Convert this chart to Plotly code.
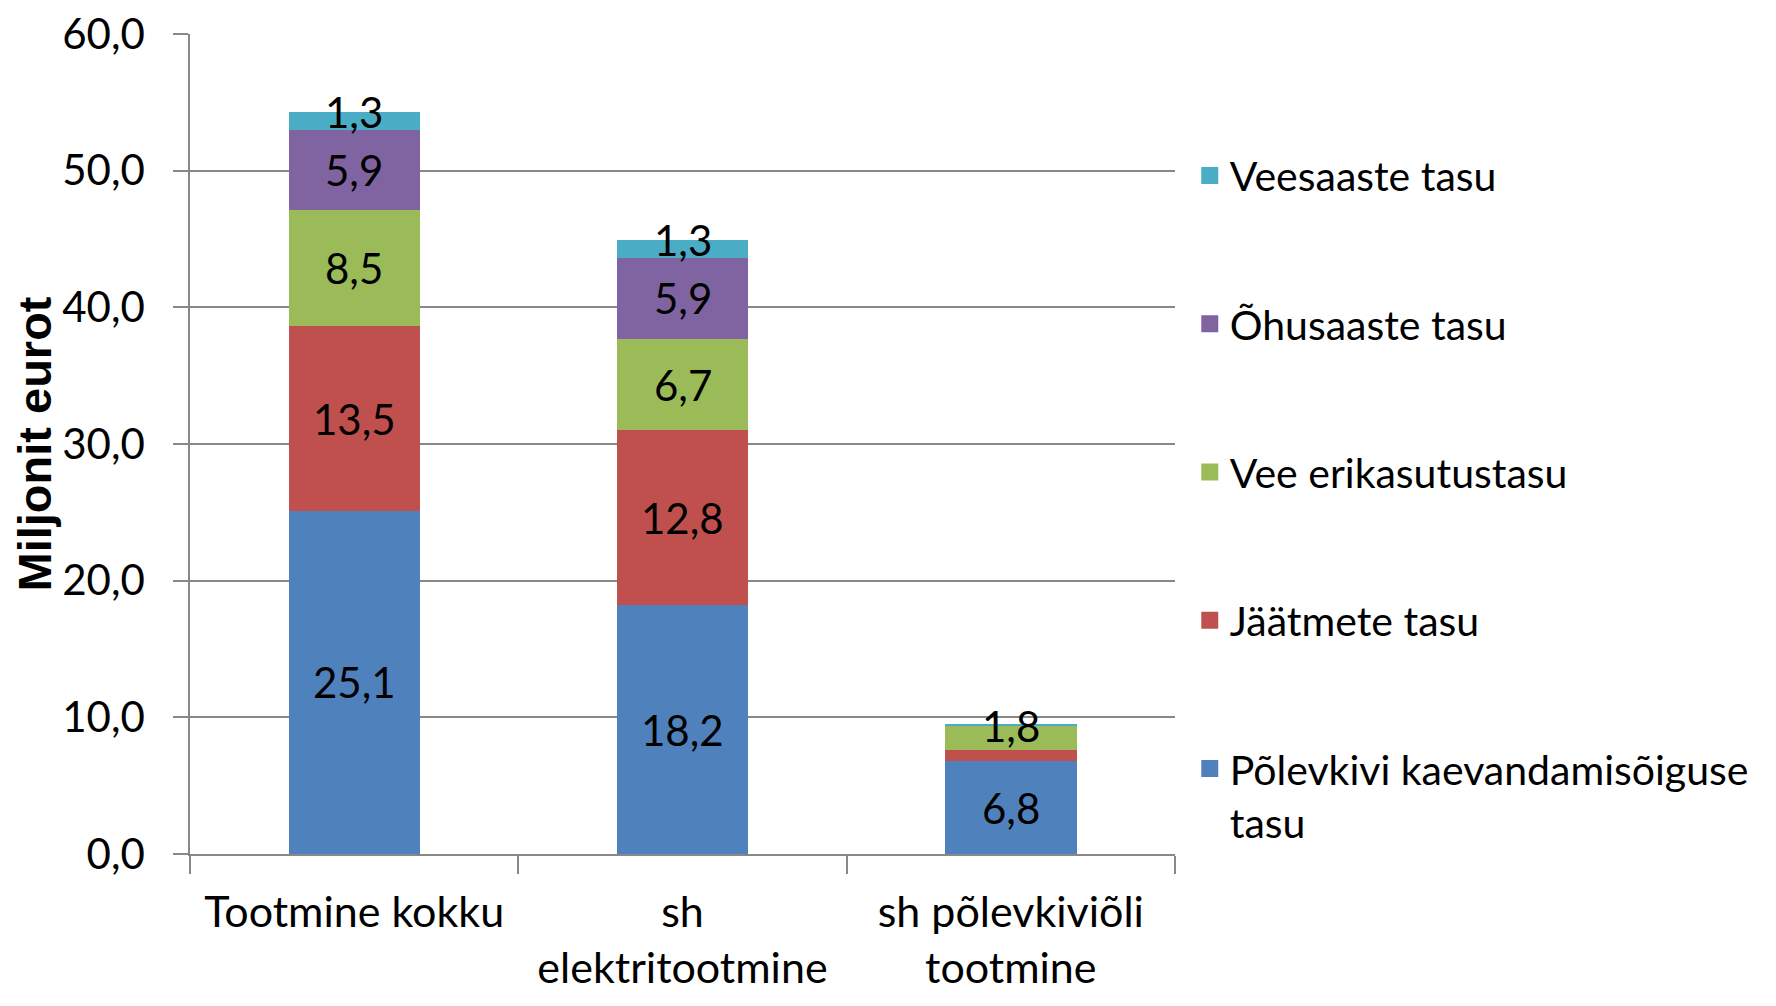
import plotly.graph_objects as go

categories = ["Tootmine kokku", "sh<br>elektritootmine", "sh põlevkiviõli<br>tootmine"]
series_names = ["Põlevkivi kaevandamisõiguse<br>tasu", "Jäätmete tasu", "Vee erikasutustasu",
                "Õhusaaste tasu", "Veesaaste tasu"]
polevkivi = [25.1, 18.2, 6.8]
jaatmete = [13.5, 12.8, 0.8]
vee_eri = [8.5, 6.7, 1.8]
ohusaaste = [5.9, 5.9, 0.0]
veesaaste = [1.3, 1.3, 0.05]
colors = ["#4F81BD", "#C0504D", "#9BBB59", "#8064A2", "#4BACC6"]
y_ticks = [0, 10, 20, 30, 40, 50, 60]

series = [polevkivi, jaatmete, vee_eri, ohusaaste, veesaaste]

FONT = "Lato"
FS = 42

fig = go.Figure()
for i, (name, vals, col) in enumerate(zip(series_names, series, colors)):
    fig.add_trace(go.Bar(
        x=categories, y=vals, name=name, marker=dict(color=col, line=dict(width=0)),
        showlegend=False,
    ))
# legend entries (bar-type swatches, enlarged via outline of same colour), top series first
for i in reversed(range(len(series_names))):
    fig.add_trace(go.Bar(
        x=[categories[0]], y=[None], name=series_names[i],
        marker=dict(color=colors[i], line=dict(width=13, color=colors[i])),
        legendgroup=f"g{i}", showlegend=True, hoverinfo="skip",
    ))

# data labels
annotations = []
cum = [0.0] * len(categories)
for vals in series:
    for j, v in enumerate(vals):
        bottom = cum[j]
        top = bottom + v
        if v >= 2:
            ypos = (bottom + top) / 2
        elif v >= 1:
            ypos = top
        else:
            ypos = None
        if ypos is not None:
            annotations.append(dict(
                x=categories[j], y=ypos, xref="x", yref="y",
                text=f"{v:.1f}".replace(".", ","), showarrow=False,
                font=dict(family=FONT, size=FS, color="black"),
                yanchor="middle", xanchor="center",
            ))
        cum[j] = top

fig.update_layout(
    barmode="stack",
    bargap=0.6,
    width=1760, height=990,
    margin=dict(l=182, r=593, t=26, b=144),
    paper_bgcolor="white", plot_bgcolor="white",
    separators=", ",
    font=dict(family=FONT, size=FS, color="black"),
    showlegend=True,
    legend=dict(
        traceorder="grouped", x=1.015, xanchor="left", y=0.868, yanchor="top",
        font=dict(family=FONT, size=41, color="black"), tracegroupgap=92,
        valign="top", itemwidth=30,
    ),
    annotations=annotations,
)
fig.update_xaxes(
    automargin=False, ticklabeloverflow="allow",
    showgrid=False, showline=True, linecolor="#888888", linewidth=1.5,
    ticks="outside", tickson="boundaries", ticklen=18, tickcolor="#888888", tickwidth=1.5,
    tickfont=dict(family=FONT, size=43, color="black"),
    ticklabelstandoff=20,
)
fig.update_yaxes(
    automargin=False, ticklabeloverflow="allow",
    range=[0, 60], tickvals=y_ticks, tickformat=".1f",
    showgrid=True, gridcolor="#888888", gridwidth=1.5,
    showline=True, linecolor="#888888", linewidth=1.5,
    ticks="outside", ticklen=15, tickcolor="#888888", tickwidth=1.5,
    tickfont=dict(family=FONT, size=FS, color="black"),
    ticklabelstandoff=20,
    title=dict(text="Miljonit eurot", font=dict(family="Liberation Sans", size=47, color="black", weight="bold"), standoff=8),
)

fig.write_html("out.html")
